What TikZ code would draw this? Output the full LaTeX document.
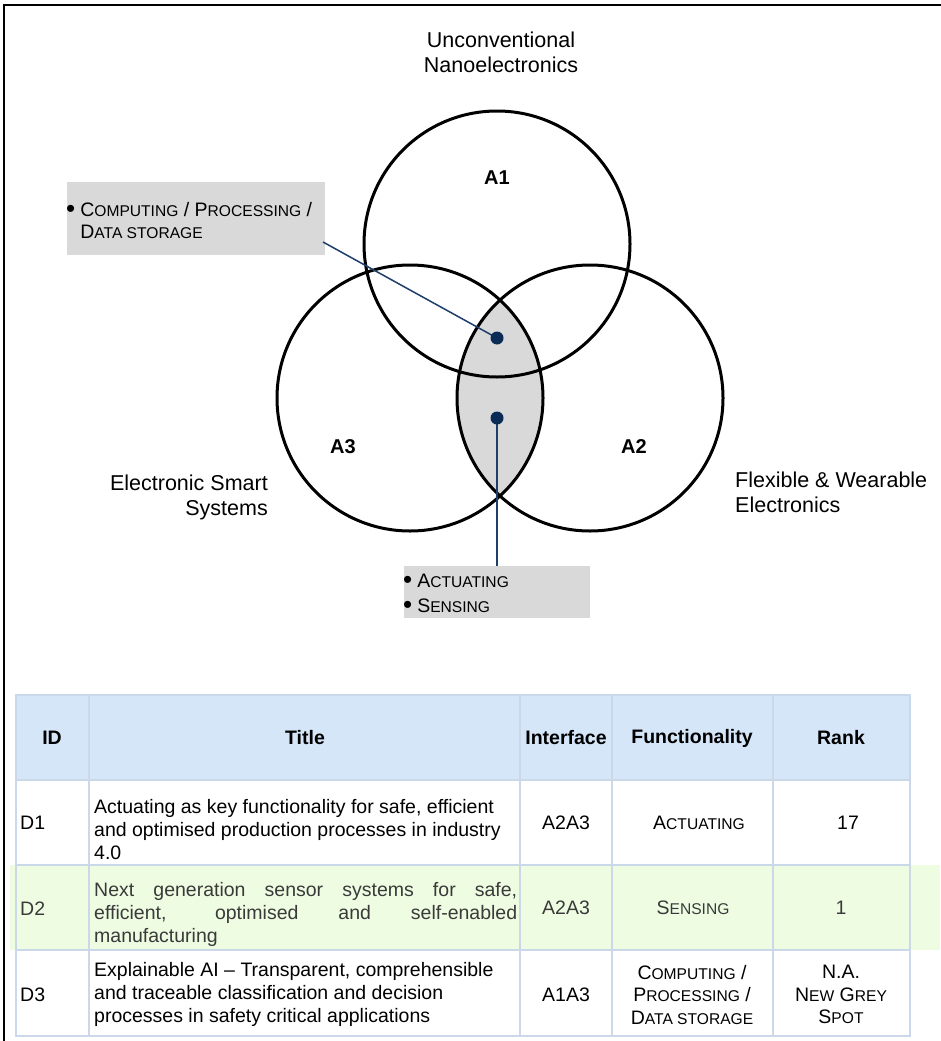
\documentclass[tikz,border=0pt]{standalone}
\usepackage{fontspec}
\setmainfont{Liberation Sans}
\definecolor{navy}{HTML}{1F3F6B}
\definecolor{dotc}{HTML}{0B2B57}
\definecolor{boxgray}{HTML}{D9D9D9}
\definecolor{hdrblue}{HTML}{D5E6F9}
\definecolor{rowgreen}{HTML}{EEFCE2}
\definecolor{gridc}{HTML}{CBD8EA}
\definecolor{dtwo}{HTML}{3A3A3A}
\newcommand\mysc[2]{#1{\fontsize{15.6}{18}\selectfont #2}}
\newcommand\mybul{\raisebox{-1.5pt}{\fontsize{26}{22}\selectfont\textbullet}}
\begin{document}
\begin{tikzpicture}[x=1pt,y=-1pt,
  venn/.style={circle,draw=black,line width=3pt,minimum size=266pt,inner sep=0pt},
  lbl/.style={font=\fontsize{21.5}{25}\selectfont,inner sep=0pt,align=center},
  area/.style={font=\bfseries\fontsize{20}{24}\selectfont,inner sep=0pt},
  graybox/.style={fill=boxgray,inner sep=0pt,anchor=north west},
  boxtext/.style={font=\fontsize{19.5}{22}\selectfont,inner sep=0pt,anchor=west},
  dotnode/.style={circle,fill=dotc,inner sep=0pt,minimum size=13pt},
  leader/.style={draw=navy,line width=1.5pt},
  grid/.style={draw=gridc,line width=1.3pt},
  cell/.style={font=\fontsize{19.5}{23.3}\selectfont,inner sep=0pt},
  head/.style={font=\bfseries\fontsize{19.5}{23.3}\selectfont,inner sep=0pt}]
\useasboundingbox (0,0) rectangle (940,1041);
\fill[white] (0,0) rectangle (940,1041);
% frame
\draw[line width=2pt] (4,1050) -- (4,5) -- (950,5);

% lens fill
\begin{scope}
  \clip (410,398) circle[radius=133pt];
  \fill[boxgray] (590,398) circle[radius=133pt];
\end{scope}

% circles
\node[venn] (C1) at (497,244) {};
\node[venn] (C3) at (410,398) {};
\node[venn] (C2) at (590,398) {};

% labels
\node[lbl] (tUN) at (501,52) {Unconventional\\Nanoelectronics};
\node[lbl,align=right,anchor=east] (tES) at (268,497) {Electronic Smart\\Systems};
\node[lbl,align=left,anchor=west] (tFW) at (735,492) {Flexible \& Wearable\\Electronics};
\node[area] (a1) at (497,178) {A1};
\node[area] (a3) at (343,447) {A3};
\node[area] (a2) at (634,447) {A2};

% callout boxes
\node[graybox,minimum width=258pt,minimum height=73pt] (box1) at (67,182) {};
\node[boxtext] (box1t) at (66,223) {\begin{tabular}{@{}l@{\hspace{5pt}}l@{}}\mybul & \mysc{C}{OMPUTING} / \mysc{P}{ROCESSING} /\\ & \mysc{D}{ATA STORAGE}\end{tabular}};
\node[graybox,minimum width=186pt,minimum height=52pt] (box2) at (404,566) {};
\node[boxtext,font=\fontsize{19.5}{25}\selectfont] (box2t) at (403,594.5) {\begin{tabular}{@{}l@{\hspace{5pt}}l@{}}\mybul & \mysc{A}{CTUATING}\\ \mybul & \mysc{S}{ENSING}\end{tabular}};

% leaders and dots
\coordinate (e1) at (323,242);
\draw[leader] (497,338) -- (e1);
\draw[leader] (497,418) -- (box2.north -| 497,418);
\node[dotnode] (d1) at (497,338) {};
\node[dotnode] (d2) at (497,418) {};

% table fills
\fill[hdrblue] (16,695) rectangle (910,780);
\fill[rowgreen] (10,865) rectangle (940,950);
% grid
\draw[grid] (16,695) rectangle (910,1036);
\foreach \yy in {780,865,950} \draw[grid] (16,\yy) -- (910,\yy);
\foreach \xx in {89,520,612,773} \draw[grid] (\xx,695) -- (\xx,1036);

% header
\node[head] (hID) at (52,738) {ID};
\node[head] (hT) at (305,738) {Title};
\node[head] (hI) at (566,738) {Interface};
\node[head] (hF) at (692,738) {Functionality};
\node[head] (hR) at (841,738) {Rank};

% D1
\node[cell,anchor=west] (r1id) at (20,823) {D1};
\node[cell,anchor=west,align=left] (r1t) at (94,829.5) {Actuating as key functionality for safe, efficient\\and optimised production processes in industry\\4.0};
\node[cell] (r1i) at (566,823) {A2A3};
\node[cell] (r1f) at (699,823) {\mysc{A}{CTUATING}};
\node[cell] (r1r) at (848,823) {17};

% D2
\begin{scope}[text=dtwo]
\node[cell,anchor=west] (r2id) at (20,909) {D2};
\node[cell,anchor=west,align=left] (r2t) at (94,914.5) {\makebox[423pt][s]{Next generation sensor systems for safe,}\\\makebox[423pt][s]{efficient, optimised and self-enabled}\\manufacturing};
\node[cell] (r2i) at (566,908) {A2A3};
\node[cell] (r2f) at (693,908) {\mysc{S}{ENSING}};
\node[cell] (r2r) at (841,908) {1};
\end{scope}

% D3
\node[cell,anchor=west] (r3id) at (20,995) {D3};
\node[cell,anchor=west,align=left] (r3t) at (94,994.5) {Explainable AI -- Transparent, comprehensible\\and traceable classification and decision\\processes in safety critical applications};
\node[cell] (r3i) at (566,995) {A1A3};
\node[cell,align=center,font=\fontsize{19.5}{22.5}\selectfont] (r3f) at (692,994.5) {\mysc{C}{OMPUTING} /\\\mysc{P}{ROCESSING} /\\\mysc{D}{ATA STORAGE}};
\node[cell,align=center,font=\fontsize{19.5}{22.5}\selectfont] (r3r) at (841,994.5) {N.A.\\\mysc{N}{EW} \mysc{G}{REY}\\\mysc{S}{POT}};
\end{tikzpicture}
\end{document}
